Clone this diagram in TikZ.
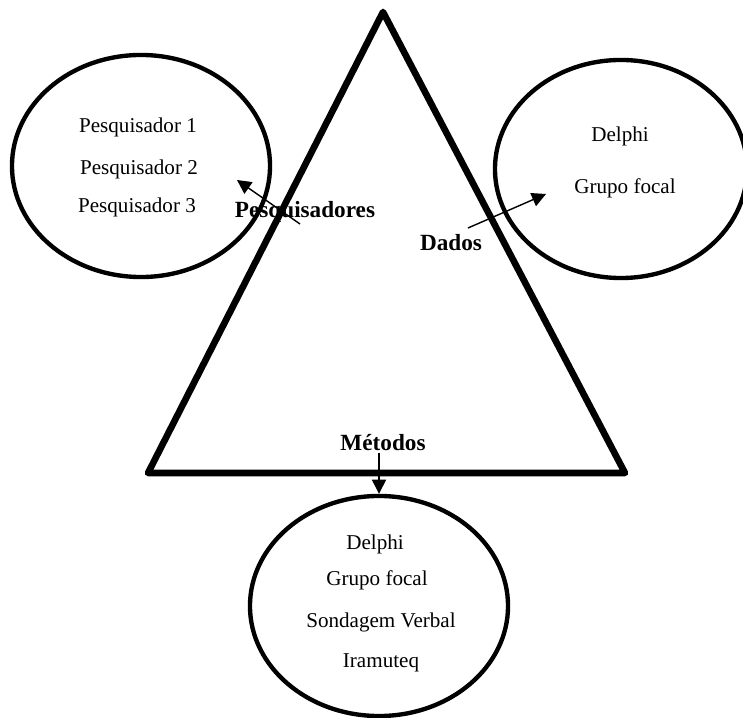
\documentclass[tikz,border=0pt]{standalone}
\usepackage{fontspec}
\setmainfont{Liberation Serif}
\usetikzlibrary{arrows.meta, positioning, shapes.geometric}

\begin{document}
\begin{tikzpicture}[x=0.025cm, y=0.025cm, >=Triangle]
    \tikzset{
        bubble/.style={draw, ellipse, line width=3.1pt, inner sep=0pt, minimum width=6.45cm, minimum height=5.55cm},
        item/.style={font=\fontsize{15}{17}\selectfont},
        corner/.style={font=\fontsize{16.5}{19}\selectfont\bfseries, inner sep=1pt},
        pointer/.style={-{Triangle[length=10pt, width=10pt]}, line width=1pt}
    }
    \useasboundingbox (0,0) rectangle (743,717);
    % Ellipses around the triangle
    \node[bubble] (pesqbox) at (141,551) {};
    \node[bubble, minimum width=6.3cm, minimum height=5.45cm] (dadosbox) at (621,548) {};
    \node[bubble, minimum height=5.5cm] (metbox) at (379,111) {};
    % Triangle
    \coordinate (apex) at (383,705);
    \coordinate (baseL) at (148,244);
    \coordinate (baseR) at (625,244);
    \draw[line width=4.7pt, line join=round] (apex) -- (baseL) -- (baseR) -- cycle;
    % Texts in the ellipses
    \node[item] (p1) at (138,590) {Pesquisador 1};
    \node[item] (p2) at (139,548) {Pesquisador 2};
    \node[item] (p3) at (137,510) {Pesquisador 3};
    \node[item] (d1) at (620,581) {Delphi};
    \node[item] (d2) at (625,529) {Grupo focal};
    \node[item] (m1) at (375,173) {Delphi};
    \node[item] (m2) at (377,137) {Grupo focal};
    \node[item] (m3) at (381,95) {Sondagem Verbal};
    \node[item] (m4) at (381,54) {Iramuteq};
    % Corner labels
    \node[corner] (pesq) at (305,505) {Pesquisadores};
    \node[corner] (dados) at (451,474) {Dados};
    \node[corner] (metodos) at (383,274) {Métodos};
    % Arrows
    \coordinate (pesqtail) at (300,493);
    \coordinate (pesqtip) at (237,537);
    \coordinate (dadostail) at (468,489);
    \coordinate (dadostip) at (546,523);
    \draw[pointer] (pesqtail) -- (pesqtip);
    \draw[pointer] (dadostail) -- (dadostip);
    \draw[pointer] (metbox.north |- metodos.south) -- (metbox.north);
\end{tikzpicture}
\end{document}
